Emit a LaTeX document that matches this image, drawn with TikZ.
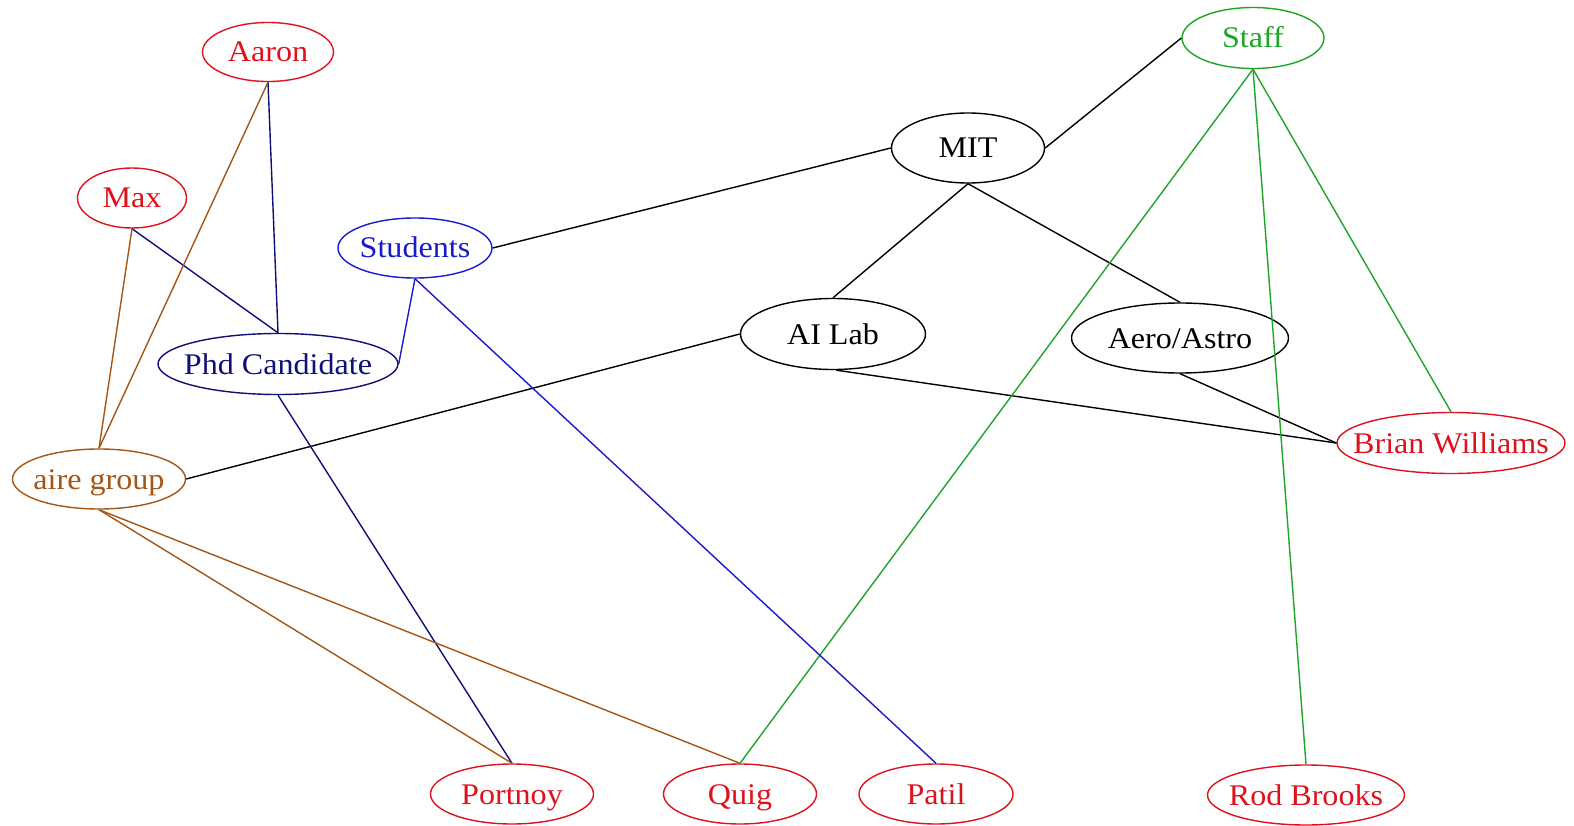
\documentclass[tikz,border=0pt]{standalone}
\usepackage{fontspec}
\setmainfont{Liberation Serif}[FakeStretch=1.07]
\usetikzlibrary{shapes.geometric}
\definecolor{redc}{RGB}{222,18,28}
\definecolor{greenc}{RGB}{30,165,40}
\definecolor{bluec}{RGB}{25,25,205}
\definecolor{navyc}{RGB}{15,15,120}
\definecolor{brownc}{RGB}{165,85,20}
\newcommand\nlab[1]{\makebox[0pt][c]{#1}}
\tikzset{
  nd/.style={ellipse, draw, line width=1.4pt, inner sep=0pt,
    font=\fontsize{30}{32}\selectfont, text height=20pt, text depth=0pt},
  ed/.style={line width=1.4pt},
}
\begin{document}
\begin{tikzpicture}[x=1pt,y=-1pt]
\useasboundingbox (0,0) rectangle (1574,826);
% nodes
\node[nd, draw=redc, text=redc, minimum width=131, minimum height=59] (aaron) at (268,52) {\nlab{Aaron}};
\node[nd, draw=redc, text=redc, minimum width=109, minimum height=60] (max) at (132,198) {\nlab{Max}};
\node[nd, draw=bluec, text=bluec, minimum width=154, minimum height=60] (stud) at (415,248) {\nlab{Students}};
\node[nd, draw=navyc, text=navyc, minimum width=240, minimum height=61] (phd) at (278,364) {\nlab{Phd Candidate}};
\node[nd, draw=brownc, text=brownc, minimum width=173, minimum height=60] (aire) at (99,479) {\nlab{aire group}};
\node[nd, draw=black, text=black, minimum width=153, minimum height=70] (mit) at (968,148) {\nlab{MIT}};
\node[nd, draw=black, text=black, minimum width=185, minimum height=71] (ai) at (833,334) {\nlab{AI Lab}};
\node[nd, draw=black, text=black, minimum width=217, minimum height=70] (aero) at (1180,338) {\nlab{Aero/Astro}};
\node[nd, draw=greenc, text=greenc, minimum width=142, minimum height=61] (staff) at (1253,38) {\nlab{Staff}};
\node[nd, draw=redc, text=redc, minimum width=228, minimum height=61] (brian) at (1451,443) {\nlab{Brian Williams}};
\node[nd, draw=redc, text=redc, minimum width=163, minimum height=60] (portnoy) at (512,794) {\nlab{Portnoy}};
\node[nd, draw=redc, text=redc, minimum width=153, minimum height=60] (quig) at (740,794) {\nlab{Quig}};
\node[nd, draw=redc, text=redc, minimum width=154, minimum height=60] (patil) at (936,794) {\nlab{Patil}};
\node[nd, draw=redc, text=redc, minimum width=197, minimum height=60] (rod) at (1306,795) {\nlab{Rod Brooks}};
% black edges
\draw[ed, black] (mit.east) -- (staff.west);
\draw[ed, black] (mit.west) -- (stud.east);
\draw[ed, black] (mit.south) -- (ai.north);
\draw[ed, black] (mit.south) -- (aero.north);
\draw[ed, black] (ai.west) -- (aire.east);
\draw[ed, black] (ai.-85) -- (brian.west);
\draw[ed, black] (aero.south) -- (brian.west);
% green edges
\draw[ed, greenc] (staff.south) -- (quig.north);
\draw[ed, greenc] (staff.south) -- (rod.north);
\draw[ed, greenc] (staff.south) -- (brian.north);
% blue / navy edges
\draw[ed, navyc] (aaron.south) -- (phd.north);
\draw[ed, navyc] (max.south) -- (phd.north);
\draw[ed, bluec] (stud.south) -- (phd.east);
\draw[ed, bluec] (stud.south) -- (patil.north);
\draw[ed, navyc] (phd.south) -- (portnoy.north);
% brown edges
\draw[ed, brownc] (aaron.south) -- (aire.north);
\draw[ed, brownc] (max.south) -- (aire.north);
\draw[ed, brownc] (aire.south) -- (portnoy.north);
\draw[ed, brownc] (aire.south) -- (quig.north);
\end{tikzpicture}
\end{document}
